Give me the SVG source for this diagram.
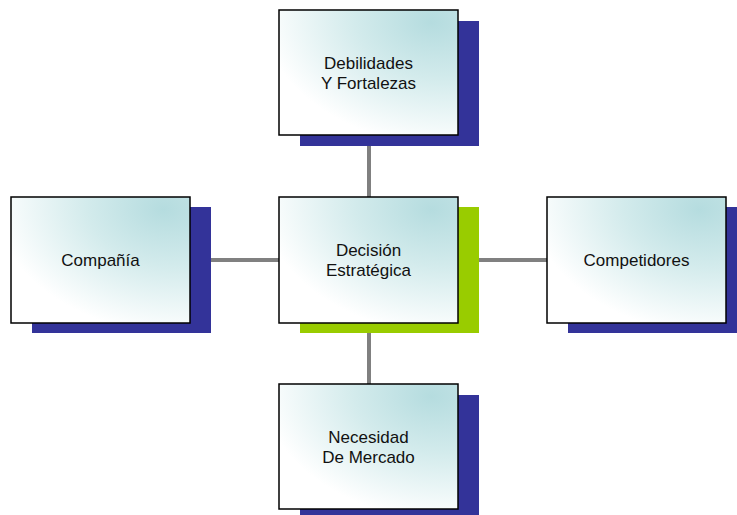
<svg xmlns="http://www.w3.org/2000/svg" width="737" height="515" viewBox="0 0 737 515">
<defs>
<radialGradient id="g" cx="1" cy="0" r="1.1" fx="0.85" fy="0.1">
<stop offset="0" stop-color="#b5dcdf"/>
<stop offset="0.45" stop-color="#d3ebec"/>
<stop offset="1" stop-color="#ffffff"/>
</radialGradient>
<style>
.box{fill:url(#g);stroke:#000;stroke-width:1.5}
.sh{fill:#333399}
.shg{fill:#99cc00}
.t{font-family:"Liberation Sans",Arial,sans-serif;font-size:17px;fill:#111;text-anchor:middle}
.c{stroke:#808080;stroke-width:4;fill:none}
</style>
</defs>
<rect width="737" height="515" fill="#fff"/>
<g id="connectors">
<line class="c" x1="369" y1="135" x2="369" y2="197"/>
<line class="c" x1="369" y1="323" x2="369" y2="384"/>
<line class="c" x1="211" y1="260" x2="279" y2="260"/>
<line class="c" x1="479" y1="260" x2="547" y2="260"/>
</g>
<g id="debilidades">
<rect class="sh" x="300" y="21" width="179" height="125"/>
<rect class="box" x="279" y="10" width="179" height="125"/>
<text class="t" x="368.5" y="69">Debilidades</text>
<text class="t" x="368.5" y="89">Y Fortalezas</text>
</g>
<g id="decision">
<rect class="shg" x="300" y="207" width="179" height="126"/>
<rect class="box" x="279" y="197" width="179" height="126"/>
<text class="t" x="368.5" y="256">Decisión</text>
<text class="t" x="368.5" y="276">Estratégica</text>
</g>
<g id="compania">
<rect class="sh" x="32" y="207" width="179" height="126"/>
<rect class="box" x="11" y="197" width="179" height="126"/>
<text class="t" x="100.5" y="266">Compañía</text>
</g>
<g id="competidores">
<rect class="sh" x="568" y="207" width="179" height="126"/>
<rect class="box" x="547" y="197" width="179" height="126"/>
<text class="t" x="636.5" y="266">Competidores</text>
</g>
<g id="necesidad">
<rect class="sh" x="300" y="395" width="179" height="126"/>
<rect class="box" x="279" y="384" width="179" height="125"/>
<text class="t" x="368.5" y="443">Necesidad</text>
<text class="t" x="368.5" y="463">De Mercado</text>
</g>
</svg>
